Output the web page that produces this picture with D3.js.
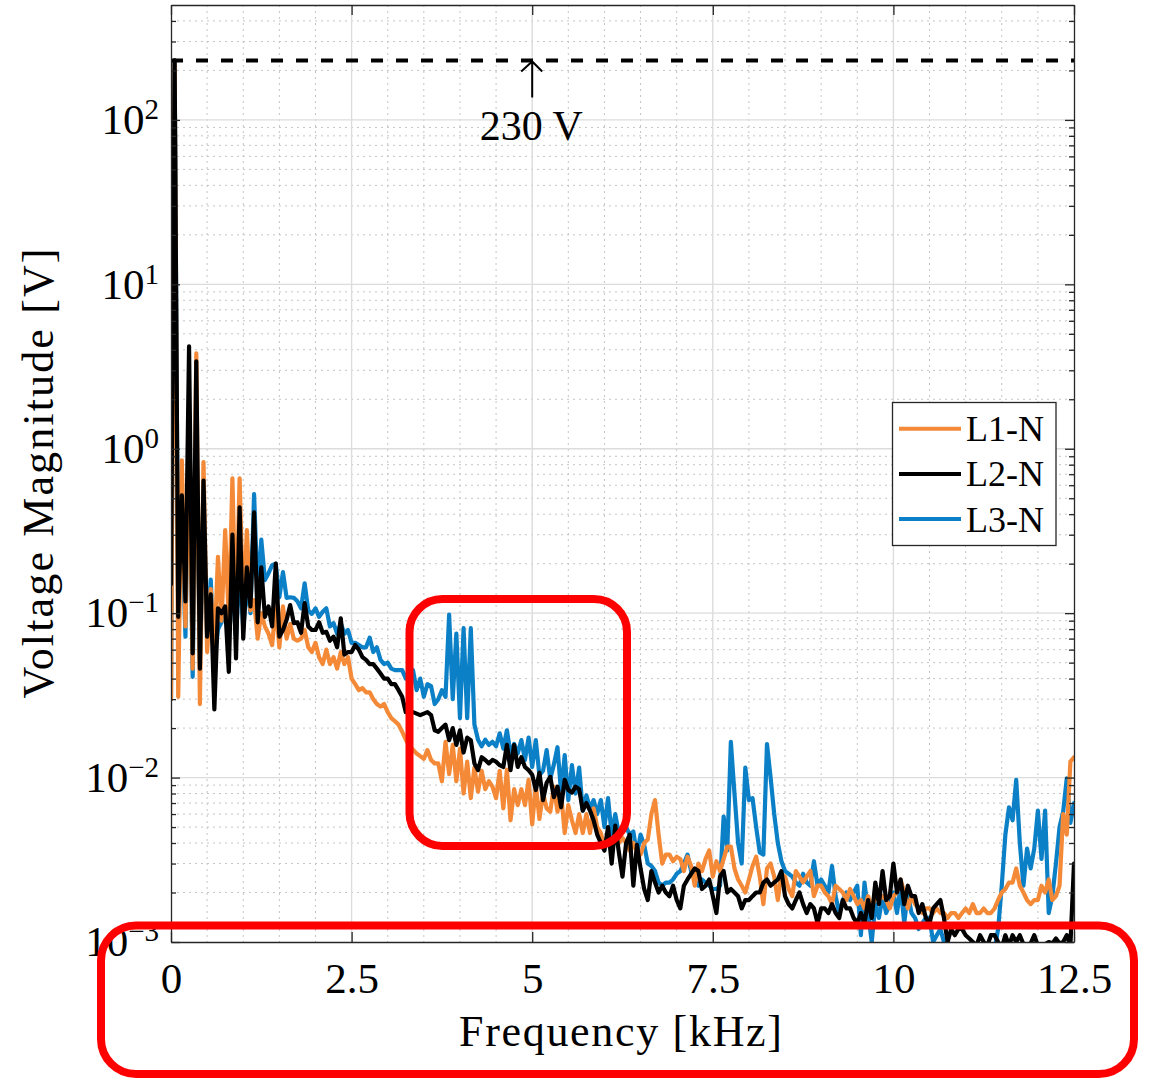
<!DOCTYPE html>
<html><head><meta charset="utf-8">
<script src="https://cdn.jsdelivr.net/npm/d3@7"></script>
<style>
body{margin:0;background:#fff}
svg{display:block}
text{font-family:"Liberation Serif","Times New Roman",serif;fill:#000}
</style>
</head><body>
<svg id="c" width="1150" height="1081"></svg>
<script>
// ---------------- DATA ----------------
const freqStepKHz = 0.05; // spectral bin spacing (50 Hz)
const seriesNames = ["L1-N", "L2-N", "L3-N"];
const seriesColors = ["#F48A37", "#000000", "#0B80C7"];

const L1 = [
0.03,230,0.031,0.85,0.083,1.2,0.046,3.8,0.028,0.83,
0.058,0.14,0.06,0.22,0.09,0.32,0.09,0.66,0.085,0.66,
0.10,0.32,0.104,0.12,0.070,0.10,0.083,0.075,0.064,0.11,
0.062,0.11,0.07,0.086,0.07,0.068,0.07,0.079,0.062,0.058,
0.066,0.054,0.049,0.060,0.049,0.054,0.046,0.058,0.049,0.054,
0.040,0.037,0.034,0.035,0.033,0.033,0.030,0.028,0.027,0.028,
0.025,0.023,0.022,0.021,0.019,0.017,0.0155,0.0148,0.0140,0.0135,
0.0130,0.0147,0.0128,0.0122,0.0122,0.0095,0.0165,0.0105,0.0158,0.0095,
0.0150,0.0080,0.0125,0.0075,0.0115,0.0082,0.0110,0.0085,0.0095,0.0088,
0.0075,0.0110,0.0065,0.0112,0.0055,0.0085,0.0068,0.0085,0.0068,0.0097,
0.0052,0.0090,0.0056,0.0080,0.0065,0.0062,0.0088,0.0062,0.0080,0.0046,
0.0068,0.0055,0.0046,0.0060,0.0046,0.0060,0.0046,0.0065,0.0050,0.0046,
0.0038,0.0045,0.0040,0.0042,0.0040,0.0043,0.0040,0.0036,0.0040,0.0035,
0.0034,0.0040,0.0042,0.0060,0.0073,0.0045,0.0030,0.0034,0.0034,0.0031,
0.0033,0.0032,0.0027,0.0033,0.0029,0.0022,0.0030,0.0027,0.0032,0.0036,
0.0025,0.0031,0.0027,0.0032,0.0038,0.0038,0.0028,0.0024,0.0022,0.0020,
0.0024,0.0029,0.0033,0.0025,0.0017,0.0028,0.0030,0.0025,0.0018,0.0026,
0.0025,0.0021,0.0019,0.0027,0.0025,0.0023,0.0025,0.0027,0.0019,0.0022,
0.0022,0.0020,0.0019,0.0017,0.0022,0.0021,0.0020,0.0018,0.0021,0.0019,
0.0017,0.0018,0.0016,0.0019,0.0016,0.0019,0.0018,0.0019,0.0018,0.0016,
0.0019,0.0020,0.0024,0.0020,0.0016,0.0019,0.0017,0.0016,0.0015,0.0016,
0.0016,0.0015,0.0016,0.0015,0.0015,0.0014,0.0015,0.0015,0.0014,0.0015,
0.0016,0.0015,0.0017,0.0015,0.0015,0.0016,0.0015,0.0015,0.0016,0.0018,
0.0020,0.0021,0.0023,0.0023,0.0028,0.0022,0.0020,0.0018,0.0017,0.0018,
0.0018,0.0022,0.0020,0.0024,0.0018,0.0019,0.0022,0.0060,0.0045,0.0125,
0.0133];

const L2 = [
0.15,230,0.095,0.52,0.118,4.2,0.057,3.4,0.046,0.64,
0.072,0.13,0.026,0.107,0.10,0.11,0.044,0.30,0.053,0.44,
0.07,0.19,0.11,0.41,0.088,0.19,0.095,0.11,0.083,0.20,
0.072,0.079,0.091,0.112,0.087,0.088,0.076,0.115,0.083,0.079,
0.079,0.088,0.076,0.077,0.068,0.072,0.062,0.093,0.056,0.058,
0.058,0.064,0.060,0.054,0.052,0.049,0.049,0.046,0.043,0.040,
0.040,0.037,0.037,0.034,0.031,0.025,0.0245,0.025,0.0245,0.024,
0.0245,0.025,0.024,0.0194,0.019,0.020,0.021,0.0169,0.020,0.0158,
0.0194,0.0142,0.0175,0.0169,0.0122,0.0111,0.0133,0.0128,0.0122,0.0128,
0.0125,0.0119,0.0116,0.0158,0.0111,0.0158,0.0116,0.0133,0.0116,0.0111,
0.0104,0.0084,0.0107,0.0073,0.0093,0.0101,0.0076,0.0088,0.0066,0.0097,
0.0084,0.0081,0.0088,0.0085,0.0063,0.0070,0.0063,0.0055,0.0045,0.0040,
0.0036,0.0050,0.0030,0.0051,0.0035,0.0025,0.0040,0.0045,0.0022,0.0039,
0.0028,0.0021,0.0018,0.0027,0.0023,0.0020,0.0022,0.0020,0.0019,0.0022,
0.0018,0.0016,0.0022,0.0024,0.0026,0.0028,0.0027,0.0021,0.0022,0.0024,
0.0019,0.0015,0.0025,0.0027,0.0020,0.0021,0.0020,0.0019,0.0016,0.0018,
0.0018,0.0019,0.0020,0.0020,0.0023,0.0024,0.0022,0.0023,0.0024,0.0027,
0.0019,0.0017,0.0016,0.0018,0.0020,0.0017,0.0015,0.0017,0.0016,0.0013,
0.0016,0.0016,0.0015,0.0017,0.0015,0.0014,0.0018,0.0016,0.0016,0.0014,
0.0013,0.0015,0.0013,0.0018,0.0014,0.0023,0.0017,0.0027,0.0018,0.0019,
0.0030,0.0020,0.0024,0.0017,0.0022,0.0019,0.0019,0.0015,0.0017,0.0014,
0.0013,0.0016,0.0017,0.0018,0.0014,0.0010,0.0012,0.0011,0.0012,0.0012,
0.0011,0.00105,0.0010,0.00095,0.0011,0.0010,0.00095,0.0011,0.0011,0.0010,
0.00092,0.0011,0.00095,0.0011,0.0010,0.0011,0.00097,0.00092,0.00098,0.0011,
0.00095,0.00093,0.00097,0.0010,0.00098,0.00105,0.00098,0.0010,0.0011,0.00095,
0.0030];

const L3 = [
0.03,230,0.09,0.4,0.072,1.5,0.041,1.5,0.05,0.35,
0.07,0.16,0.05,0.08,0.088,0.10,0.08,0.15,0.07,0.2,
0.08,0.15,0.10,0.53,0.13,0.28,0.159,0.175,0.196,0.20,
0.125,0.178,0.124,0.125,0.124,0.118,0.107,0.152,0.104,0.099,
0.107,0.095,0.102,0.107,0.083,0.087,0.075,0.087,0.075,0.079,
0.066,0.066,0.064,0.062,0.062,0.071,0.058,0.062,0.052,0.049,
0.050,0.046,0.045,0.045,0.045,0.040,0.046,0.045,0.034,0.040,
0.031,0.037,0.036,0.028,0.030,0.034,0.031,0.098,0.030,0.075,
0.023,0.081,0.023,0.081,0.021,0.017,0.0155,0.0170,0.0158,0.0165,
0.0155,0.0186,0.0150,0.0194,0.0140,0.0160,0.0140,0.0169,0.0128,0.0175,
0.0116,0.0169,0.0103,0.0110,0.0147,0.0098,0.0120,0.0153,0.0081,0.0137,
0.0073,0.0119,0.0080,0.0115,0.0063,0.0078,0.0065,0.0073,0.0060,0.0073,
0.0050,0.0075,0.0045,0.0060,0.0045,0.0047,0.0050,0.0045,0.0047,0.0034,
0.0045,0.0039,0.0030,0.0029,0.0027,0.0023,0.0022,0.0023,0.0023,0.0024,
0.0026,0.0027,0.0030,0.0034,0.0027,0.0024,0.0022,0.0024,0.0023,0.0022,
0.0021,0.0021,0.0022,0.0058,0.0036,0.0165,0.0080,0.0040,0.0030,0.0115,
0.0073,0.0075,0.0050,0.0035,0.0034,0.0160,0.0100,0.0060,0.0040,0.0031,
0.0027,0.0026,0.0025,0.0023,0.0022,0.0026,0.0023,0.0022,0.0031,0.0022,
0.0024,0.0022,0.0020,0.0029,0.0019,0.0015,0.0018,0.0020,0.0018,0.0020,
0.0022,0.0011,0.0023,0.0015,0.0010,0.0017,0.0014,0.0019,0.0015,0.0017,
0.0020,0.0015,0.0022,0.0013,0.0020,0.0015,0.0014,0.0012,0.0013,0.0014,
0.0014,0.0010,0.0011,0.0012,0.0010,0.00095,0.00085,0.0008,0.00085,0.0008,
0.0009,0.00085,0.0008,0.00085,0.0009,0.00085,0.0008,0.00085,0.0009,0.0012,
0.0022,0.0045,0.0066,0.0055,0.0097,0.0040,0.0022,0.0037,0.0028,0.0037,
0.0063,0.0032,0.0063,0.0015,0.0019,0.0030,0.0050,0.0062,0.0099,0.0053,
0.0070];

const xTicks = [0, 2.5, 5, 7.5, 10, 12.5];
const xTickLabels = ["0", "2.5", "5", "7.5", "10", "12.5"];
const yTickExponents = [-3, -2, -1, 0, 1, 2];
const nominalVoltage = 230;
const nominalLabel = "230 V";
const xLabel = "Frequency [kHz]";
const yLabel = "Voltage Magnitude [V]";

// ---------------- CHART ----------------
const P = {left: 171, right: 1074, top: 5, bottom: 942};
const x = d3.scaleLinear().domain([0, 12.5]).range([P.left, P.right]);
const y = d3.scaleLog().domain([1e-3, 500]).range([P.bottom, P.top]);
const svg = d3.select("#c");
const AX = "#262626";

svg.append("defs").append("clipPath").attr("id", "clip")
  .append("rect").attr("x", P.left).attr("y", P.top)
  .attr("width", P.right - P.left).attr("height", P.bottom - P.top);

svg.append("rect").attr("x", P.left).attr("y", P.top)
  .attr("width", P.right - P.left).attr("height", P.bottom - P.top).attr("fill", "#fff");

// grid
const xMinor = d3.range(0.5, 12.5, 0.5).filter(v => Math.abs(v / 2.5 - Math.round(v / 2.5)) > 1e-6);
const yMajor = yTickExponents.map(e => Math.pow(10, e));
const yMinor = [];
for (let k = -3; k <= 2; k++) for (let m = 2; m <= 9; m++) { const v = m * Math.pow(10, k); if (v < 499) yMinor.push(v); }

const grid = svg.append("g");
grid.selectAll(".gxm").data(xMinor).join("line")
  .attr("x1", d => x(d)).attr("x2", d => x(d)).attr("y1", P.top).attr("y2", P.bottom)
  .attr("stroke", "#c4c4c4").attr("stroke-width", 1).attr("stroke-dasharray", "2,4");
grid.selectAll(".gym").data(yMinor).join("line")
  .attr("y1", d => y(d)).attr("y2", d => y(d)).attr("x1", P.left).attr("x2", P.right)
  .attr("stroke", "#c4c4c4").attr("stroke-width", 1).attr("stroke-dasharray", "2,4");
grid.selectAll(".gx").data(xTicks.slice(1, -1)).join("line")
  .attr("x1", d => x(d)).attr("x2", d => x(d)).attr("y1", P.top).attr("y2", P.bottom)
  .attr("stroke", "#dcdcdc").attr("stroke-width", 1.4);
grid.selectAll(".gy").data(yMajor.slice(1)).join("line")
  .attr("y1", d => y(d)).attr("y2", d => y(d)).attr("x1", P.left).attr("x2", P.right)
  .attr("stroke", "#dcdcdc").attr("stroke-width", 1.4);

// data lines (drawing order: L3, L1, L2)
const series = [
  {name: seriesNames[0], values: L1, color: seriesColors[0]},
  {name: seriesNames[1], values: L2, color: seriesColors[1]},
  {name: seriesNames[2], values: L3, color: seriesColors[2]}
];
const line = d3.line().x((d, i) => x(i * freqStepKHz)).y(d => y(d));
const lines = svg.append("g").attr("clip-path", "url(#clip)");
[series[2], series[0], series[1]].forEach(s => {
  lines.append("path").datum(s.values).attr("d", line)
    .attr("fill", "none").attr("stroke", s.color).attr("stroke-width", 4.2)
    .attr("stroke-linejoin", "round").attr("stroke-linecap", "round");
});

// 230 V dashed reference line
svg.append("line").attr("x1", P.left).attr("x2", P.right)
  .attr("y1", y(nominalVoltage)).attr("y2", y(nominalVoltage))
  .attr("stroke", "#000").attr("stroke-width", 4).attr("stroke-dasharray", "12,13");

// axes
function styleAxis(g) {
  g.selectAll(".domain").attr("stroke", AX).attr("stroke-width", 1.3);
  g.selectAll(".tick line").attr("stroke", AX).attr("stroke-width", 1.3);
  g.attr("font-family", null).attr("font-size", null);
}
const gxb = svg.append("g").attr("transform", `translate(0,${P.bottom})`)
  .call(d3.axisBottom(x).tickValues(xTicks).tickSizeInner(-10).tickSizeOuter(0).tickPadding(20)
    .tickFormat((d, i) => xTickLabels[i]));
styleAxis(gxb);
gxb.selectAll(".tick text").attr("font-size", "43px").attr("fill", "#000");

const gxt = svg.append("g").attr("transform", `translate(0,${P.top})`)
  .call(d3.axisTop(x).tickValues(xTicks).tickSizeInner(-10).tickSizeOuter(0).tickFormat(""));
styleAxis(gxt);

const gyl = svg.append("g").attr("transform", `translate(${P.left},0)`)
  .call(d3.axisLeft(y).tickValues(yMajor).tickSizeInner(-9).tickSizeOuter(0).tickPadding(12)
    .tickFormat(() => ""));
styleAxis(gyl);
gyl.selectAll(".tick text").each(function(d, i) {
  const t = d3.select(this).attr("font-size", "43px").attr("fill", "#000");
  t.append("tspan").text("10");
  const e = yTickExponents[i];
  t.append("tspan").attr("dy", "-15").attr("font-size", "29px")
    .text(e < 0 ? "\u2212" + Math.abs(e) : String(e));
});
const gylm = svg.append("g").attr("transform", `translate(${P.left},0)`)
  .call(d3.axisLeft(y).tickValues(yMinor).tickSizeInner(-5).tickSizeOuter(0).tickFormat(""));
styleAxis(gylm); gylm.select(".domain").remove();

const gyr = svg.append("g").attr("transform", `translate(${P.right},0)`)
  .call(d3.axisRight(y).tickValues(yMajor).tickSizeInner(-9).tickSizeOuter(0).tickFormat(""));
styleAxis(gyr);
const gyrm = svg.append("g").attr("transform", `translate(${P.right},0)`)
  .call(d3.axisRight(y).tickValues(yMinor).tickSizeInner(-5).tickSizeOuter(0).tickFormat(""));
styleAxis(gyrm); gyrm.select(".domain").remove();

// axis labels
svg.append("text").attr("x", (P.left + P.right) / 2 - 2).attr("y", 1046)
  .attr("text-anchor", "middle").attr("font-size", "44px")
  .attr("textLength", 323).attr("lengthAdjust", "spacing").text(xLabel);
svg.append("text").attr("transform", `translate(53,${(P.top + P.bottom) / 2}) rotate(-90)`)
  .attr("text-anchor", "middle").attr("font-size", "44px")
  .attr("textLength", 450).attr("lengthAdjust", "spacing").text(yLabel);

// annotation arrow + text
const ax0 = x(5);
const ay = y(nominalVoltage);
svg.append("path")
  .attr("d", `M${ax0},${ay + 37}L${ax0},${ay + 1}M${ax0 - 11},${ay + 11}L${ax0},${ay + 1}L${ax0 + 10},${ay + 11}`)
  .attr("fill", "none").attr("stroke", "#000").attr("stroke-width", 2);
svg.append("text").attr("x", ax0 - 1).attr("y", 140).attr("text-anchor", "middle")
  .attr("font-size", "42px").text(nominalLabel);

// legend
const lg = svg.append("g");
lg.append("rect").attr("x", 892.5).attr("y", 402.5).attr("width", 163.5).attr("height", 143)
  .attr("fill", "#fff").attr("stroke", AX).attr("stroke-width", 1.3);
series.forEach((s, i) => {
  const ly = 428.7 + i * 45.2;
  lg.append("line").attr("x1", 899).attr("x2", 961).attr("y1", ly).attr("y2", ly)
    .attr("stroke", s.color).attr("stroke-width", 4);
  lg.append("text").attr("x", 966).attr("y", ly + 12.5).attr("font-size", "36px").text(s.name);
});

// red highlight annotations
svg.append("rect").attr("x", 409.5).attr("y", 599).attr("width", 217.5).attr("height", 247)
  .attr("rx", 33).attr("ry", 33).attr("fill", "none").attr("stroke", "#ff0000").attr("stroke-width", 8);
svg.append("rect").attr("x", 101).attr("y", 925.5).attr("width", 1033).attr("height", 148.5)
  .attr("rx", 35).attr("ry", 35).attr("fill", "none").attr("stroke", "#ff0000").attr("stroke-width", 8);
</script>
</body></html>
